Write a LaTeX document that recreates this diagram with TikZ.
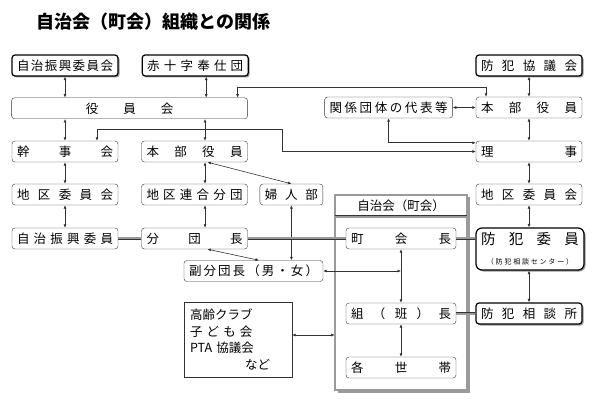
\documentclass[tikz,border=0pt]{standalone}
\usepackage{fontspec}
\setmainfont{Noto Sans CJK JP}
\usepackage{xcolor}
\definecolor{darkgray}{HTML}{333333}
\definecolor{shade}{HTML}{9A9A9A}
\usepackage{tikz}
\usetikzlibrary{shadows,positioning,arrows.meta}
\newcommand{\boxfont}{\fontsize{12.5}{15}\selectfont}
\newcommand{\bigboxfont}{\fontsize{14.5}{17}\selectfont}
\newcommand{\subfont}{\fontsize{7}{8}\selectfont}
\newcommand{\titlefont}{\fontsize{18}{20}\selectfont\bfseries}

\begin{document}
\begin{tikzpicture}[x = 1pt, y = -1pt, node distance = 22pt, terminal/.style={
					rectangle, minimum height = 21pt, rounded corners = 3pt, draw = darkgray, fill = white,
					inner xsep = 5pt, inner ysep = 0pt, text width = 96pt, align = center, font = \boxfont},
				heavy/.style={terminal, draw = black, line width = 1.2pt,
					drop shadow = {shadow xshift = 1.5pt, shadow yshift = -1.5pt, fill = shade, opacity = 1}},
				container/.style={rectangle, minimum width = 132pt, minimum height = 195pt, inner sep = 0pt,
					draw = darkgray, double = shade, double distance = 1.6pt, line width = 0.6pt, fill = white,
					drop shadow = {shadow xshift = 2.5pt, shadow yshift = -2.5pt, fill = shade, opacity = 1}},
				link/.style={{Latex[length=3.5pt,width=3pt]}-{Latex[length=3.5pt,width=3pt]}, draw = darkgray, line width = 0.6pt},
				band/.style={draw = darkgray, double = shade, double distance = 2pt, line width = 0.7pt}]
		\useasboundingbox (0,0) rectangle (597,406);
		\node (title) [anchor=west, font=\titlefont] at (33,22) {自治会（町会）組織との関係};
		% top row
		\node (JSK) [heavy] at (65,65.5) {自\hfill 治\hfill 振\hfill 興\hfill 委\hfill 員\hfill 会};
		\node (SJH) [heavy, right=23pt of JSK.east, anchor=west] {赤\hfill 十\hfill 字\hfill 奉\hfill 仕\hfill 団};
		\node (BKK) [heavy] at (529,65.5) {防\hfill 犯\hfill 協\hfill 議\hfill 会};
		\node (YKK) [terminal, text width=226pt, below=21pt of JSK.south west, anchor=north west] {役\hspace{25pt}員\hspace{25pt}会};
		\node (HBR) [terminal] at (529,107.5) {本\hfill 部\hfill 役\hfill 員};
		\node (KDD) [terminal, text width=118pt, left=23pt of HBR.west, anchor=east] {関\hfill 係\hfill 団\hfill 体\hfill の\hfill 代\hfill 表\hfill 等};
		\node (KJK) [terminal] at (65,151.5) {幹\hfill 事\hfill 会};
		\node (HBM) [terminal] at (194.5,151.5) {本\hfill 部\hfill 役\hfill 員};
		\node (RIJ) [terminal] at (529,151.5) {理\hfill 事};
		\node (CIL) [terminal] at (65,194.5) {地\hfill 区\hfill 委\hfill 員\hfill 会};
		\node (CRB) [terminal] at (194.5,194.5) {地\hfill 区\hfill 連\hfill 合\hfill 分\hfill 団};
		\node (FJB) [terminal, text width=53pt, right=12pt of CRB.east, anchor=west] {婦\hfill 人\hfill 部};
		\node (CIR) [terminal] at (529,194.5) {地\hfill 区\hfill 委\hfill 員\hfill 会};
		\node (JSI) [terminal] at (65,238.5) {自\hfill 治\hfill 振\hfill 興\hfill 委\hfill 員};
		\node (BDC) [terminal] at (194.5,238.5) {分\hfill 団\hfill 長};
		\node (FBD) [terminal, text width=129pt] at (253.5,271) {副\hfill 分\hfill 団\hfill 長\hfill （\hfill 男\hfill ・\hfill 女\hfill ）};
		% the town council
		\node (JCH) [container] at (401,292.5) {};
		\node (JCT) [font=\boxfont, inner sep=0pt, below=5pt of JCH.north] {自治会（町会）};
		\draw[band] ([yshift=-22pt]JCH.north west) -- ([yshift=-22pt]JCH.north east);
		\node (CHO) [terminal, text width=100pt] at (401,238.5) {町\hfill 会\hfill 長};
		\node (KUH) [terminal, text width=100pt] at (401,313.5) {組\hfill （\hfill 班\hfill ）\hfill 長};
		\node (KST) [terminal, text width=100pt] at (401,367.5) {各\hfill 世\hfill 帯};
		\node (BHI) [heavy, rounded corners=6pt, text width=98pt, minimum height=42pt] at (530,249)
			{{\bigboxfont 防\hfill 犯\hfill 委\hfill 員}\\[5pt]{\subfont （\hspace{1.8pt}防\hspace{1.8pt}犯\hspace{1.8pt}相\hspace{1.8pt}談\hspace{1.8pt}セ\hspace{1.8pt}ン\hspace{1.8pt}タ\hspace{1.8pt}ー\hspace{1.8pt}）}};
		\node (BSJ) [heavy] at (529,313.5) {防\hfill 犯\hfill 相\hfill 談\hfill 所};
		\node (KRC) [rectangle, draw=darkgray, fill=white, minimum width=108pt, minimum height=75pt,
			text width=96pt, inner xsep=6pt, align=left, font=\fontsize{12.5}{16.5}\selectfont] at (238,339.5)
			{高齢クラブ\\子 ど も 会\\PTA 協議会\\\hspace*{55pt}など};
		% connectors
		\draw[link] (JSK.south) -- (JSK.south |- YKK.north);
		\draw[link] ([xshift=11pt]SJH.south) -- ([xshift=11pt]SJH.south |- YKK.north);
		\draw[link] (BKK.south) -- (HBR.north);
		\draw[link] ([xshift=108pt]YKK.north) -- ++(0,-10) -| ([xshift=-43pt]HBR.north);
		\draw[link] (KDD.east) -- (HBR.west);
		\draw[link] (HBR.south) -- (RIJ.north);
		\draw[link] (KDD.south) |- ([yshift=-2pt]RIJ.north west);
		\draw[link] (YKK.south -| KJK.north) -- (KJK.north);
		\draw[link] ([xshift=32pt]KJK.north) -- ++(0,-11) -- ++(185,0) |- (RIJ.west);
		\draw[link] ([xshift=10.5pt]HBM.north) -- ([xshift=10.5pt]HBM.north |- YKK.south);
		\draw[link] (KJK.south) -- (CIL.north);
		\draw[link] (CIL.south) -- (JSI.north);
		\draw[link] ([xshift=10.5pt]HBM.south) -- ([xshift=10.5pt]CRB.north);
		\draw[link] ([xshift=10.5pt]CRB.south) -- ([xshift=10.5pt]BDC.north);
		\draw[link] ([xshift=13pt]HBM.south) -- (FJB.north);
		\draw[link] (FJB.south) -- (FJB.south |- FBD.north);
		\draw[link] ([xshift=13pt]BDC.south) -- ([xshift=5.5pt]FBD.north);
		\draw[band] (JSI.east) -- (BDC.west);
		\draw[band] (BDC.east) -- (CHO.west);
		\draw[band] (CHO.east) -- (CHO.east -| BHI.west);
		\draw[band] (KUH.east) -- (BSJ.west);
		\draw[link] (CHO.south) -- (KUH.north);
		\draw[link] (FBD.east) -- (FBD.east -| CHO.south);
		\draw[link] (KUH.south) -- (KST.north);
		\draw[link] ([yshift=4.5pt]KRC.east) -- ([yshift=4.5pt]KRC.east -| JCH.west);
		\draw[link] (RIJ.south) -- (CIR.north);
		\draw[link] (CIR.south) -- (CIR.south |- BHI.north);
		\draw[link] (CIR.south |- BHI.south) -- (BSJ.north);
	\end{tikzpicture}
\end{document}
